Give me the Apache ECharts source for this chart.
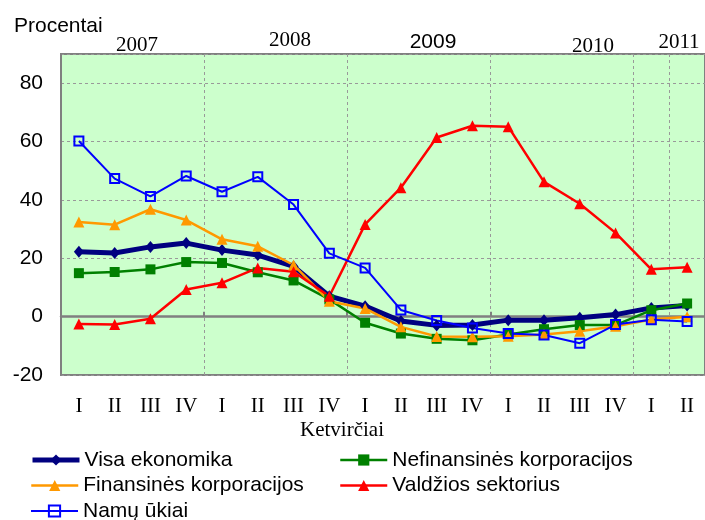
<!DOCTYPE html>
<html>
<head>
<meta charset="utf-8">
<script src="https://cdn.jsdelivr.net/npm/echarts@6/dist/echarts.min.js"></script>
<style>
  html, body { margin: 0; padding: 0; background: #fff; }
  #chart { width: 705px; height: 520px; }
</style>
</head>
<body>
<div id="chart"></div>
<script>
// quarters 2007 I .. 2011 II
const quarters = ['I', 'II', 'III', 'IV', 'I', 'II', 'III', 'IV', 'I', 'II', 'III', 'IV',
                  'I', 'II', 'III', 'IV', 'I', 'II'];
const years = ['2007', '2008', '2009', '2010', '2011'];

const visaEkonomika = [22.2, 21.8, 23.9, 25.2, 22.8, 21.1, 17.2, 7.0, 3.6, -1.5, -3.0, -2.9, -1.2, -1.2, -0.4, 0.7, 3.0, 3.8];
const nefinansines = [14.9, 15.3, 16.2, 18.7, 18.4, 15.2, 12.4, 5.9, -2.1, -5.8, -7.6, -8.1, -6.1, -4.3, -2.9, -2.9, 2.2, 4.5];
const finansines = [32.4, 31.5, 36.8, 33.1, 26.5, 24.1, 17.7, 5.3, 2.8, -3.5, -6.8, -6.9, -6.7, -6.1, -5.0, -3.3, -1.0, 0.0];
const valdzios = [-2.5, -2.7, -0.7, 9.3, 11.6, 16.7, 15.4, 7.0, 31.6, 44.2, 61.4, 65.4, 65.1, 46.2, 38.7, 28.7, 16.2, 16.9];
const namuUkiai = [60.2, 47.3, 41.2, 48.2, 42.8, 47.9, 38.4, 21.7, 16.7, 2.3, -1.3, -3.9, -5.8, -6.3, -9.1, -2.7, -1.1, -1.7];

const serif = 'Liberation Serif';
const sans = 'Liberation Sans';

// hand placed year captions above the plot
const yearPos = [[137, 45, serif], [290, 40, serif], [433, 42, sans], [593, 46, serif], [679, 42, serif]];

// legend entries: one legend per entry, [name, left, top]
const legendPos = [
    ['Visa ekonomika', 30, 449.5],
    ['Nefinansinės korporacijos', 339, 449.5],
    ['Finansinės korporacijos', 30, 475],
    ['Valdžios sektorius', 339, 475],
    ['Namų ūkiai', 30, 500.5]
];

const chart = echarts.init(document.getElementById('chart'));

const lineSeries = (name, data, color, width, symbol, size, extra) => Object.assign({
    name: name,
    type: 'line',
    data: data,
    symbol: symbol,
    symbolSize: size,
    lineStyle: { color: color, width: width },
    itemStyle: { color: color },
    emphasis: { disabled: true },
    animation: false,
    z: 3
}, extra || {});

chart.setOption({
    animation: false,
    grid: {
        left: 61, top: 54, width: 652, height: 321,
        show: true,
        backgroundColor: '#CCFFCC',
        borderColor: '#808080',
        borderWidth: 2
    },
    xAxis: [
        {
            type: 'category',
            data: quarters,
            position: 'bottom',
            axisLine: { show: false, onZero: false },
            axisTick: { show: false },
            axisLabel: { interval: 0, margin: 21, color: '#000', fontFamily: serif, fontSize: 21 },
            splitLine: { show: true, interval: 3, lineStyle: { color: '#999', type: [3, 3], width: 1 } }
        },
        {
            type: 'category',
            data: quarters,
            position: 'top',
            axisLine: { show: true, onZero: true, lineStyle: { color: '#808080', width: 2.5 } },
            axisTick: { show: true, interval: 3, length: 5, lineStyle: { color: '#808080', width: 2 } },
            axisLabel: { show: false }
        }
    ],
    yAxis: {
        type: 'value',
        min: -20, max: 90, interval: 20,
        axisLine: { show: true, lineStyle: { color: '#808080', width: 2 } },
        axisTick: { show: false },
        axisLabel: {
            color: '#000', fontFamily: sans, fontSize: 21, margin: 18,
            formatter: v => (v === 90 ? '' : String(v))
        },
        splitLine: { show: true, lineStyle: { color: '#999', type: [3, 3], width: 1 } }
    },
    legend: legendPos.map(p => ({
        data: [p[0]],
        left: p[1], top: p[2],
        padding: 0,
        itemWidth: 47, itemHeight: 14,
        lineStyle: { width: 'inherit' },
        itemStyle: { borderWidth: 'inherit' },
        textStyle: { fontFamily: sans, fontSize: 21, lineHeight: 21, color: '#000' }
    })),
    graphic: [
        { type: 'text', left: 14, top: 16, style: { text: 'Procentai', fontFamily: sans, fontSize: 21, fill: '#000' } },
        { type: 'text', x: 342, y: 430, style: { text: 'Ketvirčiai', fontFamily: serif, fontSize: 21, fill: '#000', align: 'center', verticalAlign: 'middle' } }
    ].concat(years.map((y, i) => ({
        type: 'text', x: yearPos[i][0], y: yearPos[i][1],
        style: { text: y, fontFamily: yearPos[i][2], fontSize: 21, fill: '#000', align: 'center', verticalAlign: 'middle' }
    }))),
    series: [
        lineSeries('Visa ekonomika', visaEkonomika, '#000080', 5, 'diamond', [10, 12]),
        lineSeries('Nefinansinės korporacijos', nefinansines, '#008000', 2.5, 'rect', 10),
        lineSeries('Finansinės korporacijos', finansines, '#FF9900', 2.5, 'triangle', 11),
        lineSeries('Valdžios sektorius', valdzios, '#FF0000', 2.5, 'triangle', 11),
        lineSeries('Namų ūkiai', namuUkiai, '#0000FF', 2, 'rect', 9, {
            itemStyle: { color: 'rgba(0,0,0,0)', borderColor: '#0000FF', borderWidth: 2 }
        })
    ]
});
</script>
</body>
</html>
